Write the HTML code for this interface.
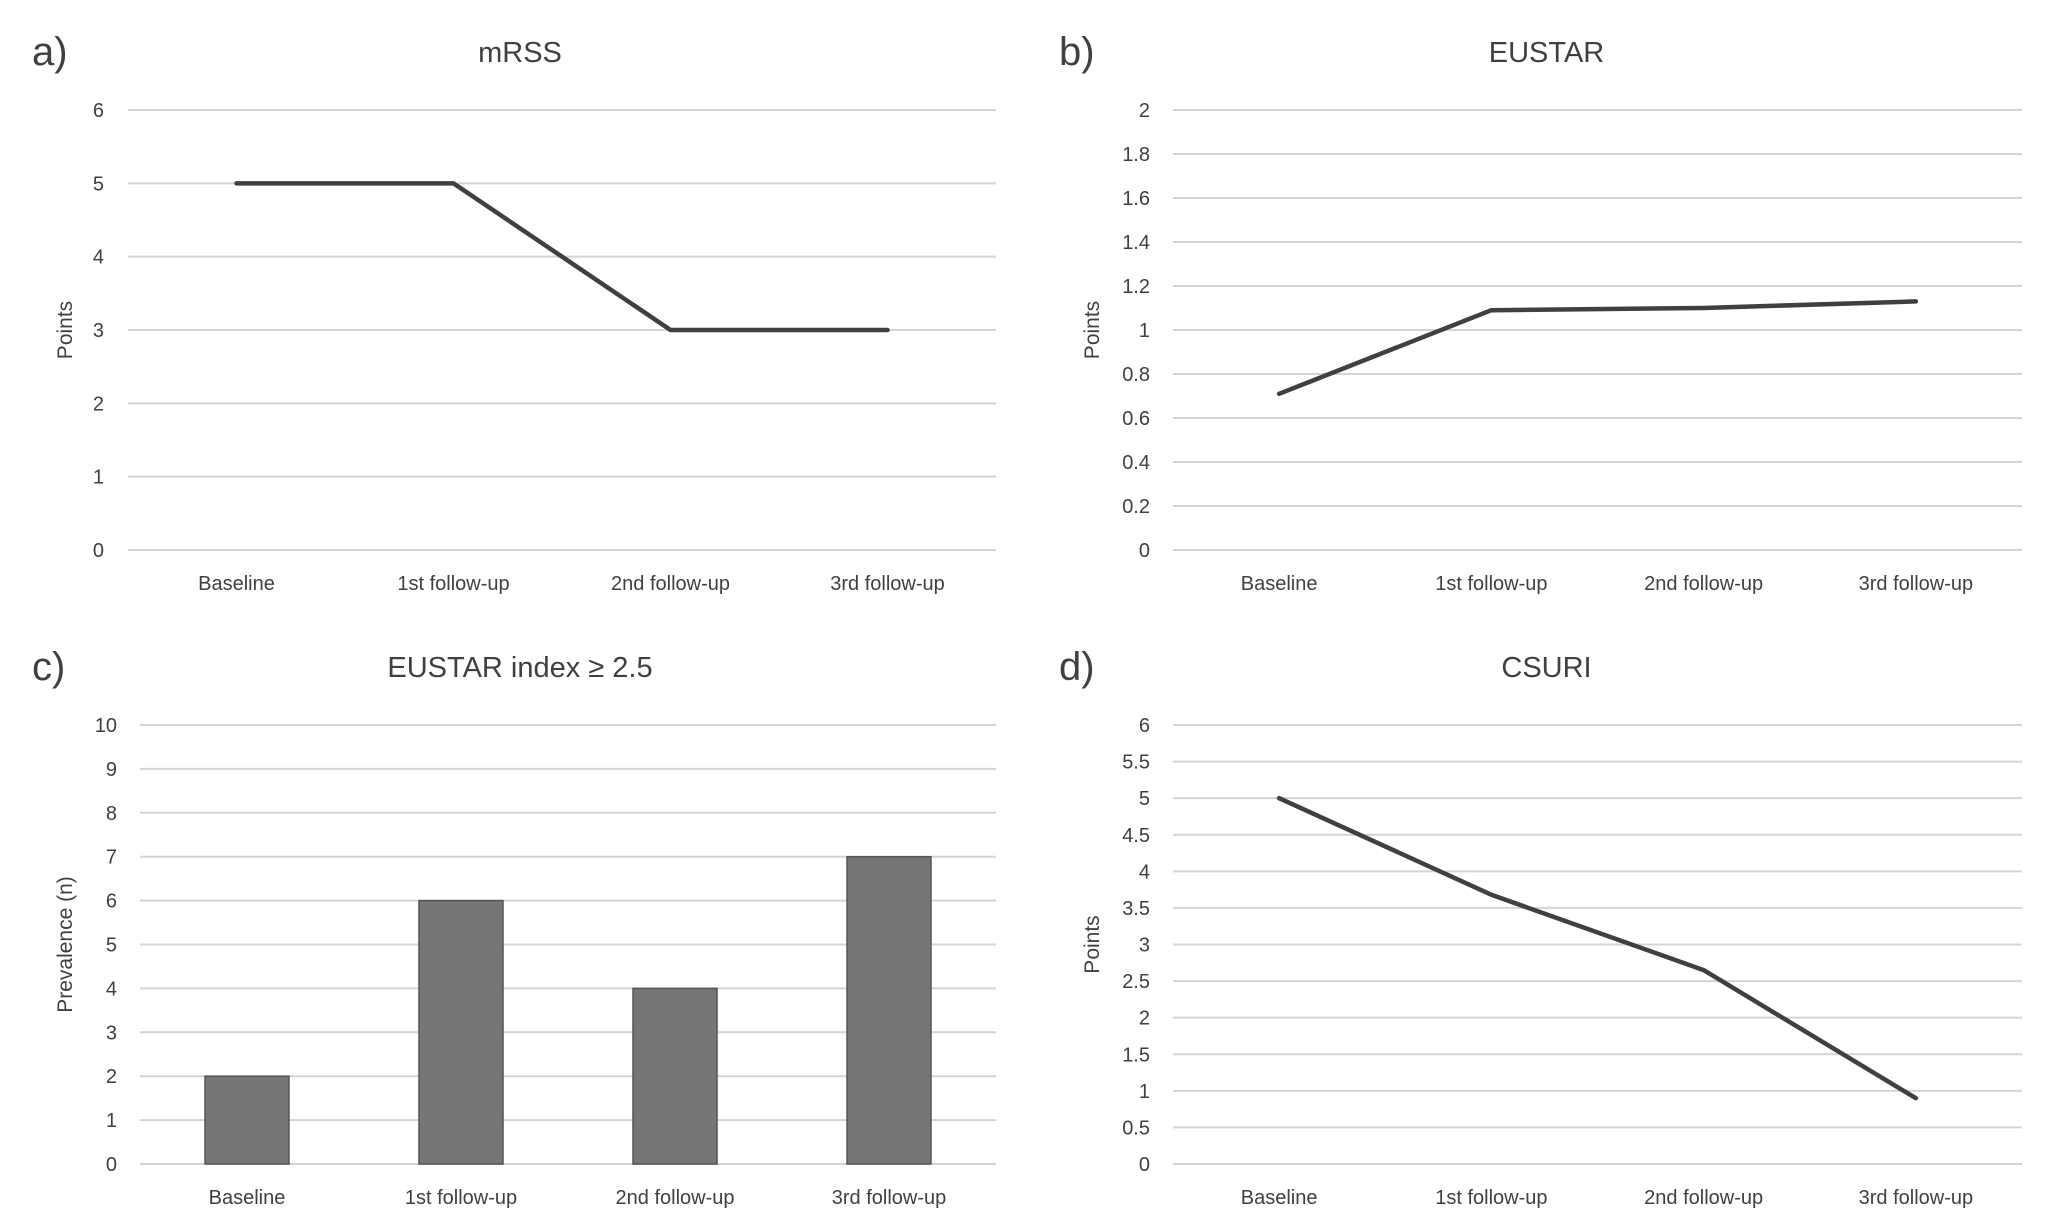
<!DOCTYPE html>
<html><head><meta charset="utf-8"><style>
html,body{margin:0;padding:0;background:#fff;}
svg{display:block;}
text{font-family:"Liberation Sans",sans-serif;fill:#404040;}
</style></head><body>
<svg id="chart" width="2056" height="1232" viewBox="0 0 2056 1232" xmlns="http://www.w3.org/2000/svg"></svg>
<script>
const categories = ["Baseline","1st follow-up","2nd follow-up","3rd follow-up"];
const mrssValues = [5,5,3,3];
const eustarValues = [0.71,1.09,1.10,1.13];
const prevalenceValues = [2,6,4,7];
const csuriValues = [5,3.68,2.65,0.9];
const mrssTicks = ["0","1","2","3","4","5","6"];
const eustarTicks = ["0","0.2","0.4","0.6","0.8","1","1.2","1.4","1.6","1.8","2"];
const prevTicks = ["0","1","2","3","4","5","6","7","8","9","10"];
const csuriTicks = ["0","0.5","1","1.5","2","2.5","3","3.5","4","4.5","5","5.5","6"];

const NS="http://www.w3.org/2000/svg";
const svg=document.getElementById('chart');
function mk(tag,attrs,parent){const e=document.createElementNS(NS,tag);for(const k in attrs)e.setAttribute(k,attrs[k]);(parent||svg).appendChild(e);return e;}

function panel(cfg){
  const g=mk('g',{});
  
  
  const ticks=cfg.ticks, max=parseFloat(ticks[ticks.length-1]);
  const y=v=>cfg.y0-(v/max)*(cfg.y0-cfg.y1);
  const step=(cfg.x1-cfg.x0)/categories.length;
  const x=i=>cfg.x0+step*(i+0.5);
  const lt=mk('text',{x:cfg.lx,y:cfg.ty+13,'font-size':40},g);lt.textContent=cfg.letter;
  
  
  const t=mk('text',{x:(cfg.x0+cfg.x1)/2-cfg.titleShift,y:cfg.ty+10,'font-size':29,'text-anchor':'middle'},g);t.textContent=cfg.title;
  
  
  ticks.forEach(tk=>{
    const v=parseFloat(tk);
    const l=mk('line',{x1:cfg.x0,x2:cfg.x1,y1:y(v),y2:y(v),stroke:'#d4d4d4','stroke-width':2},g);
    
    
    const tt=mk('text',{x:cfg.tickX,y:y(v)+7,'font-size':20,'text-anchor':'end'},g);tt.textContent=tk;
    
    
  });
  const yl=mk('text',{x:0,y:0,'font-size':21,'text-anchor':'middle',transform:`translate(${cfg.ylx},${(cfg.y0+cfg.y1)/2}) rotate(-90)`},g);yl.textContent=cfg.ylabel;
  
  
  categories.forEach((c,i)=>{
    const ct=mk('text',{x:x(i),y:cfg.y0+40,'font-size':20,'text-anchor':'middle'},g);ct.textContent=c;
    
    
  });
  if(cfg.bars){
    cfg.values.forEach((v,i)=>{
      const r=mk('rect',{x:x(i)-42,y:y(v),width:84,height:cfg.y0-y(v),fill:'#767676',stroke:'#555','stroke-width':1.5},g);
      
      
    });
  } else {
    const p=mk('polyline',{points:cfg.values.map((v,i)=>x(i)+','+y(v)).join(' '),fill:'none',stroke:'#404040','stroke-width':4.5,'stroke-linejoin':'round','stroke-linecap':'round'},g);
    
    
  }
}
panel({name:'panel-a-mrss',letter:'a)',lx:32,ty:52,title:'mRSS',titleShift:42,x0:128,x1:996,y0:550,y1:110,ticks:mrssTicks,tickX:104,ylabel:'Points',ylx:72,values:mrssValues});
panel({name:'panel-b-eustar',letter:'b)',lx:1059,ty:52,title:'EUSTAR',titleShift:51,x0:1173,x1:2022,y0:550,y1:110,ticks:eustarTicks,tickX:1150,ylabel:'Points',ylx:1099,values:eustarValues});
panel({name:'panel-c-prevalence',letter:'c)',lx:32,ty:667,title:'EUSTAR index ≥ 2.5',titleShift:48,x0:140,x1:996,y0:1164,y1:725,ticks:prevTicks,tickX:117,ylabel:'Prevalence (n)',ylx:72,values:prevalenceValues,bars:true});
panel({name:'panel-d-csuri',letter:'d)',lx:1059,ty:667,title:'CSURI',titleShift:51,x0:1173,x1:2022,y0:1164,y1:725,ticks:csuriTicks,tickX:1150,ylabel:'Points',ylx:1099,values:csuriValues});
</script>
</body></html>
